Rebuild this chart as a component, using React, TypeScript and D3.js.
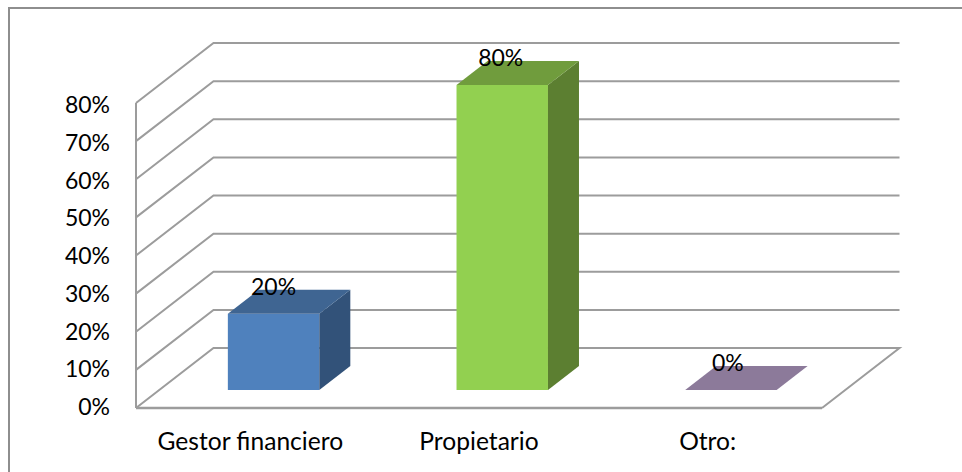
import React from "react";
import * as d3 from "d3";

const categories = ["Gestor financiero", "Propietario", "Otro:"];
const values = [20, 80, 0];
const dataLabels = ["20%", "80%", "0%"];
const yTicks = [0, 10, 20, 30, 40, 50, 60, 70, 80];
const frontColors = ["#4f81bd", "#92d050", "#8c7a9a"];
const topColors = ["#3f6592", "#709c3d", "#8c7a9a"];
const sideColors = ["#325279", "#5c7f31", "#8c7a9a"];

const W = 962, H = 472;
const x0 = 136, x1 = 822, yBase = 408, yTop = 103;
const depthX = 77.5, depthY = 60;
const barStartFrac = 0.3, barDepthFrac = 0.4;
const FONT = "Lato, Carlito, sans-serif";

export default function App() {
  const y = d3.scaleLinear().domain([0, 80]).range([yBase, yTop]);
  const yLabel = d3.scaleLinear().domain([0, 80]).range([415, 113]);
  const x = d3.scaleBand<string>().domain(categories).range([x0, x1]).paddingInner(0.6).paddingOuter(0.3);
  const line = d3.line();
  const gridColor = "#9c9c9c";
  const poly = (pts: [number, number][]) => line(pts) + "Z";
  return (
    <svg width={W} height={H} style={{ position: "fixed", left: 0, top: 0, background: "#fff" }}>
      <path d={line([[9, H], [9, 8], [W, 8]]) as string} fill="none" stroke="#8e8e8e" strokeWidth={2} />
      {yTicks.map((t) => (
        <path key={t} fill="none" stroke={gridColor} strokeWidth={2}
          d={line(t === 0
            ? [[x0, y(0)], [x0 + depthX, y(0) - depthY], [x1 + depthX, y(0) - depthY], [x1, y(0)]]
            : [[x0, y(t)], [x0 + depthX, y(t) - depthY], [x1 + depthX, y(t) - depthY]]) as string} />
      ))}
      <line x1={x0} x2={x0} y1={y(80)} y2={y(0)} stroke={gridColor} strokeWidth={2} />
      <line x1={x0} x2={x1} y1={y(0)} y2={y(0)} stroke={gridColor} strokeWidth={2.5} />
      {yTicks.map((t) => (
        <text key={t} x={110} y={yLabel(t)} textAnchor="end" fontFamily={FONT} fontSize={23} fill="#000">{t}%</text>
      ))}
      {categories.map((c, i) => {
        const sx = depthX * barStartFrac, sy = depthY * barStartFrac;
        const dx = depthX * barDepthFrac, dy = depthY * barDepthFrac;
        const l = (x(c) as number) + sx, r = l + x.bandwidth();
        const b = y(0) - sy, t = y(values[i]) - sy;
        return (
          <g key={c}>
            {values[i] > 0 && <path fill={frontColors[i]} d={poly([[l, t], [r, t], [r, b], [l, b]])} />}
            {values[i] > 0 && <path fill={sideColors[i]} d={poly([[r, t], [r + dx, t - dy], [r + dx, b - dy], [r, b]])} />}
            <path fill={topColors[i]} d={poly([[l, t], [l + dx, t - dy], [r + dx, t - dy], [r, t]])} />
            <text x={(l + r) / 2 - 1.5 * i} y={t - 19} textAnchor="middle" fontFamily={FONT} fontSize={23} fill="#000">{dataLabels[i]}</text>
          </g>
        );
      })}
      {categories.map((c) => (
        <text key={c} x={(x(c) as number) + x.bandwidth() / 2} y={450} textAnchor="middle" fontFamily={FONT} fontSize={24.6} fill="#000">{c}</text>
      ))}
    </svg>
  );
}
